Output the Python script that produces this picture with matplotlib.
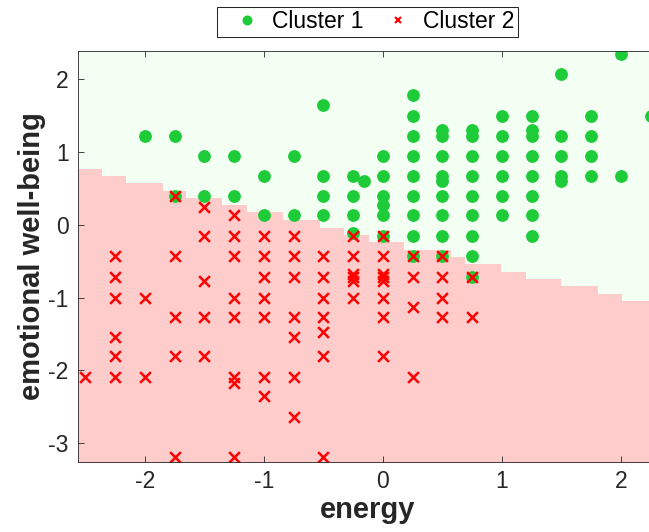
import numpy as np
import matplotlib
matplotlib.use("Agg")
import matplotlib.pyplot as plt
from matplotlib.lines import Line2D

plt.rcParams['font.family'] = ['Liberation Sans', 'DejaVu Sans']
plt.rcParams['axes.unicode_minus'] = False

# ---- data ----
# cluster 1 (green dots): energy column -> emotional well-being values
c1_cols = [-2.0, -1.75, -1.5, -1.25, -1.0, -0.75, -0.5, -0.25, -0.16, 0.0,
           0.25, 0.5, 0.75, 1.0, 1.25, 1.5, 1.75, 2.0, 2.25]
c1_vals = [[1.22],
           [1.22, 0.40],
           [0.95, 0.40],
           [0.95, 0.40],
           [0.67, 0.13],
           [0.95, 0.13],
           [1.65, 0.67, 0.40, 0.13],
           [0.67, 0.40, 0.13, -0.11],
           [0.60],
           [0.95, 0.67, 0.40, 0.27, 0.13, -0.15],
           [1.78, 1.50, 1.22, 0.95, 0.67, 0.40, 0.13, -0.15, -0.43],
           [1.31, 1.22, 0.95, 0.67, 0.61, 0.40, 0.13, -0.15, -0.43],
           [1.31, 1.22, 0.95, 0.67, 0.40, 0.13, -0.15, -0.43, -0.72],
           [1.50, 1.22, 0.95, 0.67, 0.40, 0.13],
           [1.50, 1.31, 1.22, 0.95, 0.67, 0.40, 0.13, -0.15],
           [2.07, 1.22, 0.95, 0.67, 0.60],
           [1.50, 1.22, 0.95, 0.67],
           [2.35, 0.67],
           [1.50]]

# cluster 2 (red crosses)
c2_cols = [-2.5, -2.25, -2.0, -1.75, -1.5, -1.25, -1.0, -0.75, -0.5, -0.25,
           0.0, 0.25, 0.5, 0.75]
c2_vals = [[-2.09],
           [-0.43, -0.72, -1.0, -1.54, -1.81, -2.09],
           [-1.0, -2.09],
           [0.40, -0.43, -1.27, -1.81, -3.20],
           [0.25, -0.15, -0.77, -1.27, -1.81],
           [0.13, -0.15, -0.43, -1.0, -1.27, -2.09, -2.18, -3.20],
           [-0.15, -0.43, -0.72, -1.0, -1.27, -2.09, -2.36],
           [-0.15, -0.43, -0.72, -1.27, -1.54, -2.09, -2.64],
           [-0.43, -0.72, -1.0, -1.27, -1.47, -1.81, -3.20],
           [-0.15, -0.43, -0.68, -0.72, -0.77, -1.0],
           [-0.15, -0.43, -0.68, -0.72, -0.77, -1.0, -1.27, -1.81],
           [-0.43, -0.72, -1.13, -2.09],
           [-0.43, -0.72, -1.0, -1.27],
           [-0.72, -1.27]]

# decision region boundary (step edges in energy, top of cluster-2 region)
bound_edges = [-2.56, -2.36, -2.16, -1.85, -1.65, -1.35, -1.14, -0.84, -0.53,
               -0.33, -0.12, 0.18, 0.57, 0.69, 0.99, 1.20, 1.50, 1.81, 2.01, 2.30]
bound_levels = [0.77, 0.67, 0.58, 0.47, 0.37, 0.27, 0.17, 0.07, -0.04,
                -0.14, -0.24, -0.35, -0.44, -0.54, -0.65, -0.75, -0.84, -0.95,
                -1.05]

xlims = (-2.558, 2.294)
ylims = (-3.259, 2.396)

c1_x = np.concatenate([[c] * len(v) for c, v in zip(c1_cols, c1_vals)])
c1_y = np.concatenate(c1_vals)
c2_x = np.concatenate([[c] * len(v) for c, v in zip(c2_cols, c2_vals)])
c2_y = np.concatenate(c2_vals)

green = '#1ECC3A'
red = '#FF0000'
dark = '#262626'

fig = plt.figure(figsize=(6.49, 5.32), dpi=100)
ax = fig.add_axes([78.3/649, 1 - 461.7/532, (656 - 78.3)/649, (461.7 - 50.7)/532])

# background regions
ax.set_facecolor('#F2FFF2')
lev = bound_levels + [bound_levels[-1]]
ax.fill_between(bound_edges, ylims[0] - 1, lev, step='post',
                color='#FFCCCC', lw=0, zorder=0)

ax.scatter(c1_x, c1_y, s=85, c=green, linewidths=0, zorder=2)
ax.scatter(c2_x, c2_y, s=60, marker='x', c=red, linewidths=1.8, zorder=3)

ax.set_xlim(*xlims)
ax.set_ylim(*ylims)
ax.set_xticks([-2, -1, 0, 1, 2])
ax.set_yticks([-3, -2, -1, 0, 1, 2])

ax.tick_params(direction='in', length=4.3, width=0.6, colors=dark,
               labelsize=16.5, top=True, right=True)
ax.tick_params(axis='x', pad=6)
ax.tick_params(axis='y', pad=7)
for sp in ax.spines.values():
    sp.set_color(dark)
    sp.set_linewidth(0.6)
    sp.set_zorder(5)

ax.set_xlabel('energy', fontsize=21, fontweight='bold', color=dark, va='baseline')
ax.xaxis.set_label_coords(0.5, -(518.3 - 461.7) / 411.0)
ax.set_ylabel('emotional well-being', fontsize=21, fontweight='bold', color=dark,
              va='baseline')
ax.yaxis.label.set_rotation_mode('anchor')
ax.yaxis.set_label_coords((39.5 - 78.3) / 577.7, 0.5)

handles = [Line2D([], [], ls='none', marker='o', ms=7.2, color=green, mew=0),
           Line2D([], [], ls='none', marker='x', ms=5, mew=1.5, color=red)]
leg = fig.legend(handles, ['Cluster 1', 'Cluster 2'], loc='center',
                 bbox_to_anchor=(367.8/649, 1 - 22/532), ncol=2, fontsize=16.5,
                 frameon=True, fancybox=False, edgecolor=dark, framealpha=1,
                 borderpad=0.15, handlelength=2.25, handletextpad=0.0,
                 columnspacing=0.35, borderaxespad=0)
leg.get_frame().set_linewidth(0.75)

fig.savefig('out.png', dpi=100)
